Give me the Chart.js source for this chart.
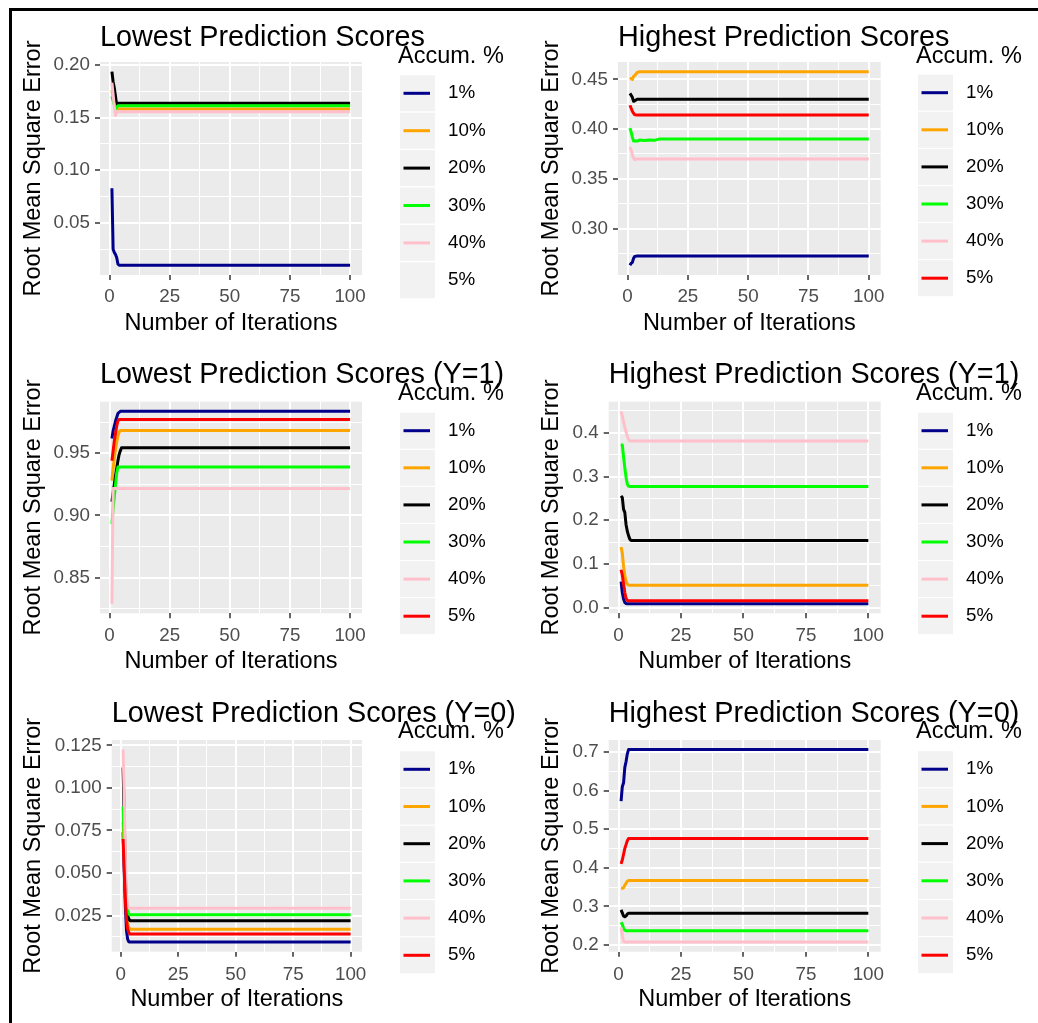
<!DOCTYPE html>
<html><head><meta charset="utf-8">
<script src="https://cdn.jsdelivr.net/npm/chart.js@4.4.1/dist/chart.umd.min.js"></script>
<style>
html,body{margin:0;padding:0;background:#fff;}
#wrap{position:relative;width:1038px;height:1023px;overflow:hidden;}
canvas{position:absolute;}
#frame{position:absolute;left:9px;top:8px;width:1100px;height:1100px;border-left:3px solid #000;border-top:3px solid #000;pointer-events:none;}
</style></head>
<body><div id="wrap">
<canvas id="c1" width="518" height="340" style="left:0;top:0;width:518px;height:340px"></canvas>
<canvas id="c2" width="520" height="340" style="left:518px;top:0;width:520px;height:340px"></canvas>
<canvas id="c3" width="518" height="340" style="left:0;top:340px;width:518px;height:340px"></canvas>
<canvas id="c4" width="520" height="340" style="left:518px;top:340px;width:520px;height:340px"></canvas>
<canvas id="c5" width="518" height="343" style="left:0;top:680px;width:518px;height:343px"></canvas>
<canvas id="c6" width="520" height="343" style="left:518px;top:680px;width:520px;height:343px"></canvas>
<div id="frame"></div>
</div>
<script>
// ---------------- DATA ----------------
const accumLevels = ['1%', '10%', '20%', '30%', '40%', '5%'];
const xTickValues = [0, 25, 50, 75, 100];
const iterFirst = 1, iterLast = 100;

// Panel 1: Lowest Prediction Scores
const lowIter = [1, 1.5, 2, 2.5, 3, 3.5, 4, 100];
const low1  = [0.083, 0.025, 0.022, 0.020, 0.017, 0.011, 0.0098, 0.0098];
const low10 = [0.176, 0.170, 0.166, 0.163, 0.159, 0.1582, 0.1582, 0.1582];
const low20 = [0.1935, 0.184, 0.178, 0.170, 0.161, 0.1636, 0.1636, 0.1636];
const low30 = [0.170, 0.166, 0.162, 0.158, 0.160, 0.1612, 0.1612, 0.1612];
const low40 = [0.183, 0.172, 0.160, 0.152, 0.155, 0.1556, 0.1556, 0.1556];
const low5  = [];
const lowYTicks = [0.05, 0.10, 0.15, 0.20];

// Panel 2: Highest Prediction Scores
const highIter = [1, 1.5, 2, 2.5, 3, 4, 5, 7, 9, 11, 13, 100];
const high1  = [0.263, 0.265, 0.266, 0.270, 0.272, 0.2724, 0.2724, 0.2724, 0.2724, 0.2724, 0.2724, 0.2724];
const high10 = [0.450, 0.451, 0.450, 0.453, 0.454, 0.457, 0.4578, 0.4578, 0.4578, 0.4578, 0.4578, 0.4578];
const high20 = [0.436, 0.434, 0.432, 0.428, 0.4285, 0.430, 0.430, 0.430, 0.430, 0.430, 0.430, 0.430];
const high30 = [0.401, 0.397, 0.392, 0.388, 0.388, 0.388, 0.389, 0.3885, 0.389, 0.3887, 0.390, 0.390];
const high40 = [0.382, 0.379, 0.374, 0.371, 0.3695, 0.370, 0.370, 0.370, 0.370, 0.370, 0.370, 0.370];
const high5  = [0.424, 0.421, 0.418, 0.416, 0.4145, 0.4142, 0.4142, 0.4142, 0.4142, 0.4142, 0.4142, 0.4142];
const highYTicks = [0.30, 0.35, 0.40, 0.45];

// Panel 3: Lowest Prediction Scores (Y=1)
const lowY1Iter = [1, 1.5, 2, 2.5, 3, 3.5, 4, 4.5, 5, 100];
const lowY1_1  = [0.962, 0.968, 0.972, 0.976, 0.979, 0.982, 0.983, 0.9838, 0.9838, 0.9838];
const lowY1_10 = [0.928, 0.938, 0.946, 0.953, 0.959, 0.964, 0.967, 0.9684, 0.9684, 0.9684];
const lowY1_20 = [0.911, 0.918, 0.925, 0.932, 0.938, 0.944, 0.949, 0.952, 0.9545, 0.9545];
const lowY1_30 = [0.893, 0.905, 0.915, 0.925, 0.934, 0.939, 0.939, 0.939, 0.939, 0.939];
const lowY1_40 = [0.829, 0.9217, 0.9217, 0.9217, 0.9217, 0.9217, 0.9217, 0.9217, 0.9217, 0.9217];
const lowY1_5  = [0.944, 0.952, 0.960, 0.966, 0.972, 0.976, 0.9772, 0.9772, 0.9772, 0.9772];
const lowY1YTicks = [0.85, 0.90, 0.95];

// Panel 4: Highest Prediction Scores (Y=1)
const highY1Iter = [1, 1.5, 2, 2.5, 3, 3.5, 4, 4.5, 5, 100];
const highY1_1  = [0.060, 0.035, 0.020, 0.012, 0.010, 0.0095, 0.0095, 0.0095, 0.0095, 0.0095];
const highY1_10 = [0.139, 0.125, 0.095, 0.075, 0.060, 0.054, 0.052, 0.0516, 0.0516, 0.0516];
const highY1_20 = [0.256, 0.252, 0.225, 0.218, 0.190, 0.175, 0.165, 0.157, 0.154, 0.154];
const highY1_30 = [0.374, 0.372, 0.345, 0.320, 0.298, 0.283, 0.278, 0.277, 0.277, 0.277];
const highY1_40 = [0.449, 0.438, 0.425, 0.413, 0.402, 0.392, 0.384, 0.381, 0.381, 0.381];
const highY1_5  = [0.087, 0.075, 0.055, 0.035, 0.022, 0.017, 0.016, 0.016, 0.016, 0.016];
const highY1YTicks = [0.0, 0.1, 0.2, 0.3, 0.4];

// Panel 5: Lowest Prediction Scores (Y=0)
const lowY0Iter = [1, 1.5, 2, 2.5, 3, 3.5, 4, 100];
const lowY0_1  = [0.074, 0.052, 0.030, 0.016, 0.011, 0.0096, 0.0094, 0.0094];
const lowY0_10 = [0.080, 0.062, 0.042, 0.026, 0.020, 0.018, 0.017, 0.017];
const lowY0_20 = [0.112, 0.083, 0.047, 0.030, 0.025, 0.023, 0.022, 0.022];
const lowY0_30 = [0.089, 0.068, 0.047, 0.033, 0.028, 0.026, 0.0254, 0.0254];
const lowY0_40 = [0.1225, 0.095, 0.058, 0.036, 0.031, 0.0295, 0.0293, 0.0293];
const lowY0_5  = [0.070, 0.052, 0.035, 0.022, 0.017, 0.015, 0.0142, 0.0142];
const lowY0YTicks = [0.025, 0.050, 0.075, 0.100, 0.125];

// Panel 6: Highest Prediction Scores (Y=0)
const highY0Iter = [1, 1.5, 2, 2.5, 3, 3.5, 4, 100];
const highY0_1  = [0.5725, 0.61, 0.62, 0.66, 0.675, 0.695, 0.706, 0.706];
const highY0_10 = [0.347, 0.347, 0.348, 0.355, 0.360, 0.365, 0.367, 0.367];
const highY0_20 = [0.291, 0.283, 0.275, 0.273, 0.275, 0.280, 0.282, 0.282];
const highY0_30 = [0.259, 0.253, 0.243, 0.238, 0.237, 0.237, 0.237, 0.237];
const highY0_40 = [0.245, 0.225, 0.209, 0.2075, 0.2075, 0.2075, 0.2075, 0.2075];
const highY0_5  = [0.410, 0.420, 0.435, 0.450, 0.460, 0.470, 0.476, 0.476];
const highY0YTicks = [0.2, 0.3, 0.4, 0.5, 0.6, 0.7];

// ---------------- STYLE / LAYOUT ----------------
const FONT = "'Liberation Sans', Arial, Helvetica, sans-serif";
const LINE_COLORS = ['#00008B', '#FFA500', '#000000', '#00FF00', '#FFC0CB', '#FF0000'];
const PANEL_BG = '#EBEBEB', KEY_BG = '#F2F2F2', GRID = '#FFFFFF', TICK_TXT = '#4D4D4D', TICK_MARK = '#333333';
const TITLE_SIZE = 28.8, AXIS_TITLE_SIZE = 23.5, TICK_SIZE = 18.8, LEG_TITLE_SIZE = 23.5, LEG_SIZE = 18.8;
const PAD_L = 21.8, X_AXIS_H = 60;

const panels = [
  {id:'c1', title:'Lowest Prediction Scores', iter:lowIter, series:[low1,low10,low20,low30,low40,low5], yTicks:lowYTicks, dec:2,
   box:{L:100,R:362,T:62,B:275}, titleBase:45.7, legBase:63.3, key0:93.3, keyStep:37.4, xPad:7.6},
  {id:'c2', title:'Highest Prediction Scores', iter:highIter, series:[high1,high10,high20,high30,high40,high5], yTicks:highYTicks, dec:2,
   box:{L:100,R:362.7,T:62,B:275}, titleBase:45.7, legBase:63.3, key0:92.7, keyStep:37.1, xPad:7.6},
  {id:'c3', title:'Lowest Prediction Scores (Y=1)', iter:lowY1Iter, series:[lowY1_1,lowY1_10,lowY1_20,lowY1_30,lowY1_40,lowY1_5], yTicks:lowY1YTicks, dec:2,
   box:{L:100,R:362,T:61.7,B:273.3}, titleBase:43.3, legBase:60, key0:90.7, keyStep:37.1, xPad:8.1},
  {id:'c4', title:'Highest Prediction Scores (Y=1)', iter:highY1Iter, series:[highY1_1,highY1_10,highY1_20,highY1_30,highY1_40,highY1_5], yTicks:highY1YTicks, dec:1,
   box:{L:90.7,R:362.7,T:61.7,B:273.3}, titleBase:43.3, legBase:60, key0:90.7, keyStep:37.1, xPad:8.1},
  {id:'c5', title:'Lowest Prediction Scores (Y=0)', iter:lowY0Iter, series:[lowY0_1,lowY0_10,lowY0_20,lowY0_30,lowY0_40,lowY0_5], yTicks:lowY0YTicks, dec:3,
   box:{L:111.7,R:362,T:60,B:271.7}, titleBase:42.3, legBase:58.3, key0:89.3, keyStep:37.2, xPad:8.4},
  {id:'c6', title:'Highest Prediction Scores (Y=0)', iter:highY0Iter, series:[highY0_1,highY0_10,highY0_20,highY0_30,highY0_40,highY0_5], yTicks:highY0YTicks, dec:1,
   box:{L:90.7,R:362.7,T:60,B:271.7}, titleBase:42.3, legBase:58.3, key0:89.2, keyStep:37.2, xPad:8.4}
];
const LEG_X = 398;

function isMajor(list, v) { return list.some(m => Math.abs(m - v) < 1e-9); }
function withMinor(major, lo, hi) {
  const step = major[1] - major[0];
  const cand = [major[0] - step / 2];
  major.forEach(v => { cand.push(v); cand.push(v + step / 2); });
  return cand.filter(v => v >= lo && v <= hi).map(v => +v.toFixed(8));
}

function makePanelPlugin(p) {
  return {
    id: 'ggPanel',
    beforeDraw(chart) {
      const {ctx, chartArea: a} = chart;
      ctx.save();
      ctx.fillStyle = PANEL_BG;
      ctx.fillRect(a.left, a.top, a.right - a.left, a.bottom - a.top);
      ctx.restore();
    },
    afterDraw(chart) {
      const {ctx, chartArea: a} = chart;
      ctx.save();
      ctx.fillStyle = '#000';
      ctx.textAlign = 'left';
      ctx.textBaseline = 'alphabetic';
      ctx.font = TITLE_SIZE + 'px ' + FONT;
      ctx.fillText(p.title, a.left, p.titleBase);
      ctx.font = LEG_TITLE_SIZE + 'px ' + FONT;
      ctx.fillText('Accum. %', LEG_X, p.legBase);
      accumLevels.forEach((lab, i) => {
        const cy = p.key0 + i * p.keyStep;
        ctx.fillStyle = KEY_BG;
        ctx.fillRect(LEG_X + 2, cy - 18, 35, 36);
        const ds = chart.data.datasets.find(d => d.label === lab);
        if (ds) {
          ctx.strokeStyle = ds.borderColor;
          ctx.lineWidth = 3;
          ctx.beginPath();
          ctx.moveTo(LEG_X + 5.5, cy);
          ctx.lineTo(LEG_X + 32, cy);
          ctx.stroke();
        }
        ctx.fillStyle = '#000';
        ctx.font = LEG_SIZE + 'px ' + FONT;
        ctx.textBaseline = 'middle';
        ctx.fillText(lab, LEG_X + 50, cy);
        ctx.textBaseline = 'alphabetic';
      });
      ctx.restore();
    }
  };
}

panels.forEach(p => {
  const canvas = document.getElementById(p.id);
  const W = canvas.width, H = canvas.height;
  const all = p.series.flat();
  const lo = Math.min(...all), hi = Math.max(...all), span = hi - lo;
  const yMin = lo - 0.05 * span, yMax = hi + 0.05 * span;
  const xSpan = iterLast - iterFirst;
  const xMin = iterFirst - 0.05 * xSpan, xMax = iterLast + 0.05 * xSpan;
  const yMajor = p.yTicks.filter(v => v >= yMin && v <= yMax);
  const yAll = withMinor(p.yTicks, yMin, yMax);
  const xAll = withMinor(xTickValues, xMin, xMax);

  const datasets = [];
  accumLevels.forEach((lab, i) => {
    const vals = p.series[i];
    if (!vals || !vals.length) return;
    datasets.push({
      label: lab,
      data: p.iter.map((x, k) => ({x: x, y: vals[k]})),
      borderColor: LINE_COLORS[i],
      backgroundColor: LINE_COLORS[i],
      borderWidth: 3,
      pointRadius: 0,
      fill: false,
      tension: 0,
      borderJoinStyle: 'round',
      order: accumLevels.length - i
    });
  });

  new Chart(canvas, {
    type: 'line',
    data: {datasets},
    options: {
      responsive: false,
      animation: false,
      devicePixelRatio: 1,
      layout: {padding: {left: PAD_L, right: W - p.box.R, top: p.box.T, bottom: H - p.box.B - X_AXIS_H}},
      plugins: {legend: {display: false}, title: {display: false}, tooltip: {enabled: false}},
      scales: {
        x: {
          type: 'linear', position: 'bottom', min: xMin, max: xMax,
          afterFit: s => { s.height = X_AXIS_H; },
          afterBuildTicks: s => { s.ticks = xAll.map(v => ({value: v})); },
          ticks: {
            autoSkip: false, maxRotation: 0, minRotation: 0, padding: p.xPad, color: TICK_TXT,
            font: {family: FONT, size: TICK_SIZE, lineHeight: 1},
            callback: v => isMajor(xTickValues, v) ? String(v) : ''
          },
          grid: {
            color: GRID,
            lineWidth: c => (c.tick && isMajor(xTickValues, c.tick.value)) ? 2 : 1,
            drawTicks: true, tickLength: 5, tickWidth: 1.5,
            tickColor: c => (c.tick && isMajor(xTickValues, c.tick.value)) ? TICK_MARK : 'rgba(0,0,0,0)'
          },
          border: {display: false},
          title: {display: true, text: 'Number of Iterations', color: '#000',
                  font: {family: FONT, size: AXIS_TITLE_SIZE, lineHeight: 1}, padding: {top: 0, bottom: 0}}
        },
        y: {
          type: 'linear', position: 'left', min: yMin, max: yMax,
          afterFit: s => { s.width = p.box.L - PAD_L; },
          afterBuildTicks: s => { s.ticks = yAll.map(v => ({value: v})); },
          ticks: {
            autoSkip: false, padding: 5, color: TICK_TXT,
            font: {family: FONT, size: TICK_SIZE, lineHeight: 1},
            callback: v => isMajor(yMajor, v) ? Number(v).toFixed(p.dec) : ''
          },
          grid: {
            color: GRID,
            lineWidth: c => (c.tick && isMajor(yMajor, c.tick.value)) ? 2 : 1,
            drawTicks: true, tickLength: 5, tickWidth: 1.5,
            tickColor: c => (c.tick && isMajor(yMajor, c.tick.value)) ? TICK_MARK : 'rgba(0,0,0,0)'
          },
          border: {display: false},
          title: {display: true, text: 'Root Mean Square Error', color: '#000',
                  font: {family: FONT, size: AXIS_TITLE_SIZE, lineHeight: 1}, padding: {top: 0, bottom: 0}}
        }
      }
    },
    plugins: [makePanelPlugin(p)]
  });
});
</script></body></html>
